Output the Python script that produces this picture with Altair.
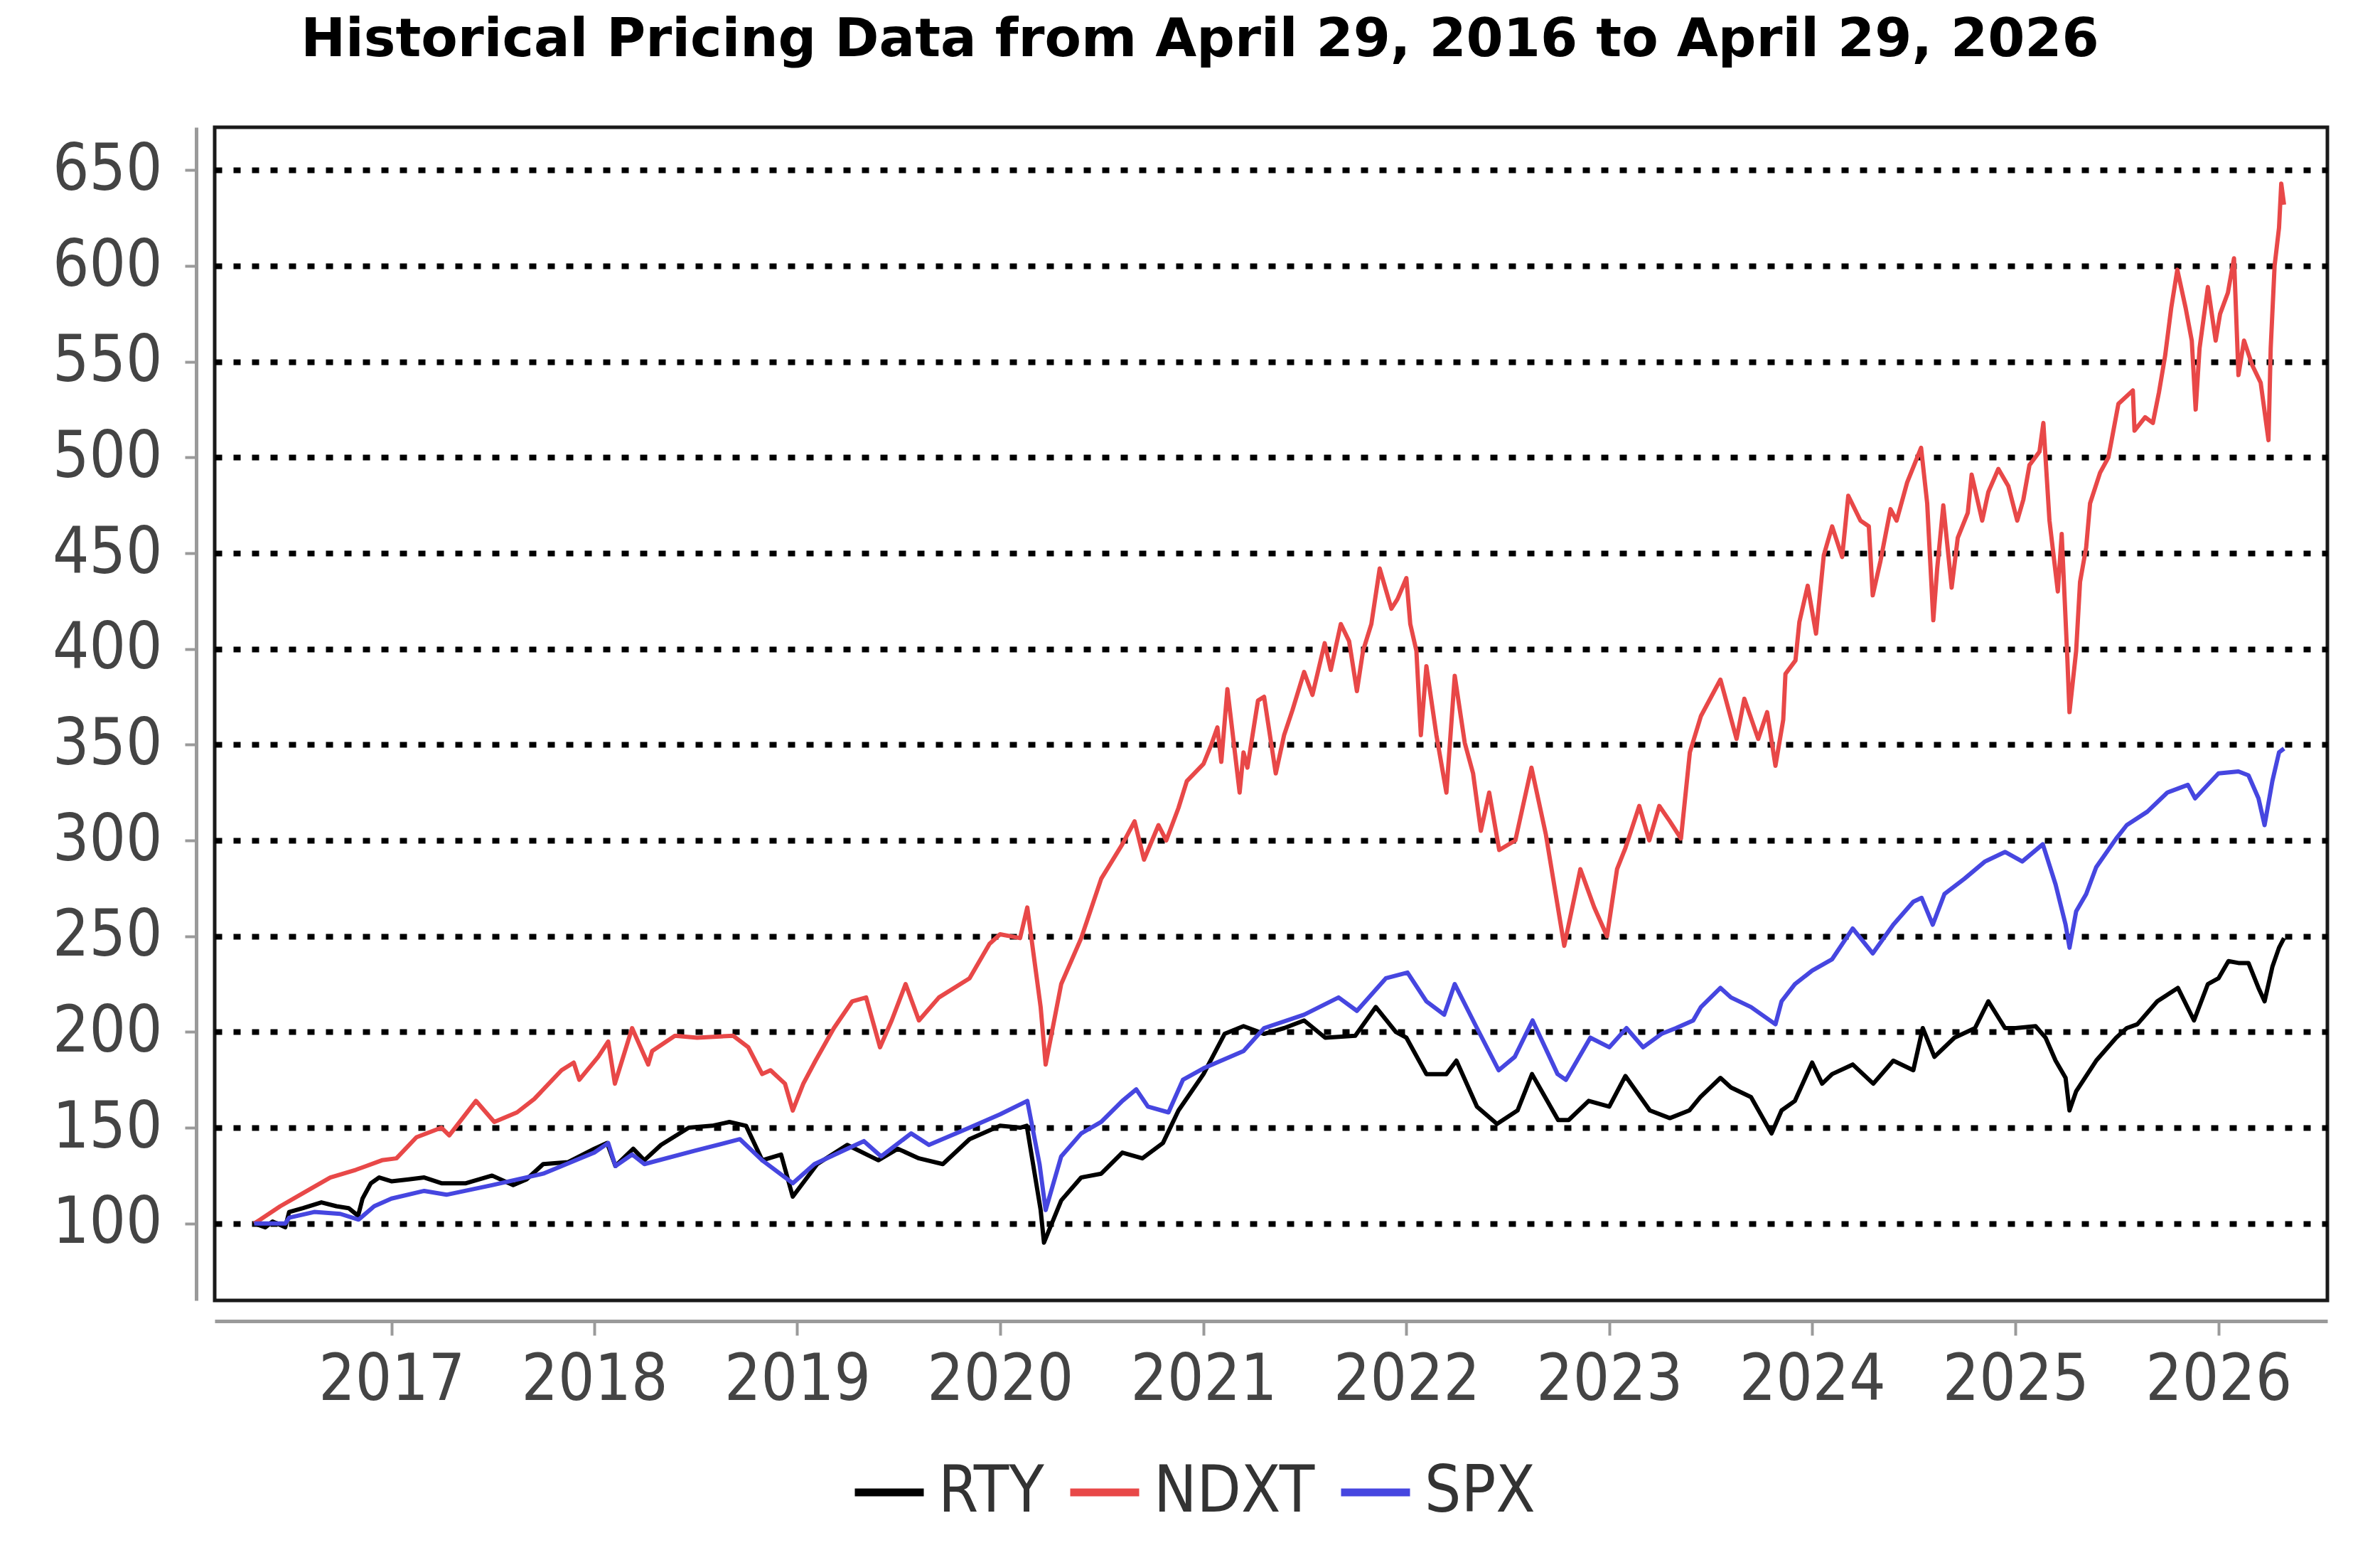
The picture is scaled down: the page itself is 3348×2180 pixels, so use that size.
import altair as alt
import pandas as pd

TITLE = "Historical Pricing Data from April 29, 2016 to April 29, 2026"
SERIES = ["RTY", "NDXT", "SPX"]
COLORS = ["#000000", "#e84848", "#4646e0"]
YEARS = list(range(2017, 2027))
Y_TICKS = list(range(100, 651, 50))

RTY_DATES = [
    "2016-04-29", "2016-05-19", "2016-06-01", "2016-06-24", "2016-07-01", "2016-07-26",
    "2016-08-28", "2016-09-24", "2016-10-16", "2016-11-02", "2016-11-10", "2016-11-25",
    "2016-12-10", "2017-01-01", "2017-02-01", "2017-03-01", "2017-04-01", "2017-05-15",
    "2017-07-01", "2017-08-08", "2017-09-01", "2017-10-01", "2017-11-15", "2018-01-01",
    "2018-01-24", "2018-02-08", "2018-03-12", "2018-04-01", "2018-05-01", "2018-06-20",
    "2018-08-01", "2018-09-01", "2018-10-01", "2018-10-30", "2018-12-03", "2018-12-24",
    "2019-02-06", "2019-04-01", "2019-05-27", "2019-07-01", "2019-08-08", "2019-09-20",
    "2019-11-07", "2020-01-01", "2020-02-06", "2020-02-18", "2020-03-14", "2020-03-20",
    "2020-04-20", "2020-05-26", "2020-07-01", "2020-08-08", "2020-09-13", "2020-10-20",
    "2020-11-17", "2021-01-01", "2021-02-08", "2021-03-14", "2021-04-20", "2021-05-26",
    "2021-07-01", "2021-08-08", "2021-10-01", "2021-11-07", "2021-12-13", "2022-01-01",
    "2022-02-06", "2022-03-14", "2022-04-01", "2022-05-08", "2022-06-13", "2022-07-20",
    "2022-08-15", "2022-10-01", "2022-10-20", "2022-11-25", "2023-01-01", "2023-01-30",
    "2023-03-15", "2023-04-20", "2023-05-25", "2023-06-14", "2023-07-20", "2023-08-08",
    "2023-09-13", "2023-10-20", "2023-11-07", "2023-12-01", "2024-01-01", "2024-01-19",
    "2024-02-06", "2024-03-14", "2024-04-20", "2024-05-26", "2024-07-01", "2024-07-18",
    "2024-08-08", "2024-09-13", "2024-10-20", "2024-11-13", "2024-12-13", "2025-01-01",
    "2025-02-06", "2025-02-24", "2025-03-14", "2025-04-01", "2025-04-08", "2025-04-20",
    "2025-05-26", "2025-07-01", "2025-07-20", "2025-08-08", "2025-09-13", "2025-10-20",
    "2025-11-18", "2025-12-13", "2026-01-01", "2026-01-19", "2026-02-06", "2026-02-24",
    "2026-03-14", "2026-03-25", "2026-04-08", "2026-04-20", "2026-04-29",
]
RTY_VALUES = [
    100, 98, 101, 98, 106, 108,
    111, 109, 108, 104, 113, 121,
    124, 122, 123, 124, 121, 121,
    125, 120, 123, 131, 132, 139,
    142, 130, 139, 133, 141, 150,
    151, 153, 151, 133, 136, 114,
    131, 141, 133, 139, 134, 131,
    144, 151, 150, 151, 107, 90,
    112, 124, 126, 137, 134, 142,
    159, 178, 199, 203, 199, 202,
    206, 197, 198, 213, 200, 197,
    178, 178, 185, 161, 152, 159,
    178, 154, 154, 164, 161, 177,
    159, 155, 159, 166, 176, 171,
    166, 147, 159, 164, 184, 173,
    178, 183, 173, 185, 180, 202,
    187, 197, 202, 216, 202, 202,
    203, 197, 185, 176, 159, 169,
    185, 197, 202, 204, 216, 223,
    206, 225, 228, 237, 236, 236,
    223, 216, 234, 244, 249,
]

NDXT_DATES = [
    "2016-04-29", "2016-05-10", "2016-06-15", "2016-07-27", "2016-09-13", "2016-10-29",
    "2016-12-15", "2017-01-10", "2017-02-15", "2017-04-01", "2017-04-15", "2017-06-02",
    "2017-07-05", "2017-08-15", "2017-09-15", "2017-11-03", "2017-11-25", "2017-12-05",
    "2018-01-08", "2018-01-26", "2018-02-07", "2018-03-10", "2018-04-08", "2018-04-15",
    "2018-05-26", "2018-07-05", "2018-09-08", "2018-10-05", "2018-10-30", "2018-11-14",
    "2018-12-10", "2018-12-24", "2019-01-12", "2019-02-03", "2019-03-08", "2019-04-10",
    "2019-05-05", "2019-05-30", "2019-06-20", "2019-07-15", "2019-08-08", "2019-09-13",
    "2019-11-07", "2019-12-13", "2020-01-01", "2020-02-06", "2020-02-19", "2020-03-14",
    "2020-03-23", "2020-04-20", "2020-05-26", "2020-07-01", "2020-08-08", "2020-08-30",
    "2020-09-16", "2020-10-12", "2020-10-26", "2020-11-17", "2020-12-02", "2021-01-01",
    "2021-01-15", "2021-01-26", "2021-02-02", "2021-02-13", "2021-03-07", "2021-03-14",
    "2021-03-21", "2021-04-09", "2021-04-20", "2021-05-11", "2021-05-26", "2021-06-10",
    "2021-07-01", "2021-07-16", "2021-08-07", "2021-08-18", "2021-09-05", "2021-09-20",
    "2021-10-04", "2021-10-15", "2021-10-30", "2021-11-14", "2021-12-05", "2021-12-16",
    "2022-01-01", "2022-01-08", "2022-01-19", "2022-01-27", "2022-02-06", "2022-02-24",
    "2022-03-14", "2022-03-29", "2022-04-16", "2022-05-01", "2022-05-15", "2022-05-30",
    "2022-06-17", "2022-07-16", "2022-08-14", "2022-09-09", "2022-10-12", "2022-11-10",
    "2022-12-05", "2022-12-28", "2023-01-15", "2023-01-30", "2023-02-24", "2023-03-14",
    "2023-04-01", "2023-04-20", "2023-05-10", "2023-05-26", "2023-06-15", "2023-07-20",
    "2023-08-18", "2023-09-01", "2023-09-26", "2023-10-12", "2023-10-27", "2023-11-10",
    "2023-11-14", "2023-12-02", "2023-12-09", "2023-12-24", "2024-01-08", "2024-01-22",
    "2024-02-06", "2024-02-24", "2024-03-06", "2024-03-28", "2024-04-12", "2024-04-19",
    "2024-05-03", "2024-05-21", "2024-06-01", "2024-06-20", "2024-07-15", "2024-07-26",
    "2024-08-06", "2024-08-13", "2024-08-24", "2024-09-08", "2024-09-19", "2024-10-07",
    "2024-10-14", "2024-11-02", "2024-11-13", "2024-12-01", "2024-12-19", "2025-01-04",
    "2025-01-15", "2025-01-26", "2025-02-13", "2025-02-20", "2025-03-03", "2025-03-18",
    "2025-03-25", "2025-04-04", "2025-04-08", "2025-04-20", "2025-04-27", "2025-05-08",
    "2025-05-15", "2025-06-02", "2025-06-17", "2025-07-05", "2025-07-31", "2025-08-03",
    "2025-08-22", "2025-09-05", "2025-09-16", "2025-09-27", "2025-10-08", "2025-10-19",
    "2025-11-03", "2025-11-14", "2025-11-21", "2025-11-28", "2025-12-13", "2025-12-27",
    "2026-01-04", "2026-01-18", "2026-01-29", "2026-02-06", "2026-02-16", "2026-03-03",
    "2026-03-18", "2026-04-01", "2026-04-05", "2026-04-12", "2026-04-20", "2026-04-24",
    "2026-04-29",
]
NDXT_VALUES = [
    100, 102, 109, 116, 124, 128,
    133, 134, 145, 150, 146, 164,
    153, 158, 165, 180, 184, 175,
    187, 195, 173, 202, 183, 190,
    198, 197, 198, 192, 178, 180,
    173, 159, 173, 185, 202, 216,
    218, 192, 206, 225, 206, 218,
    228, 246, 251, 249, 265, 213,
    183, 225, 249, 280, 298, 310,
    290, 308, 300, 317, 331, 340,
    350, 359, 341, 379, 325, 346,
    338, 373, 375, 335, 355, 368,
    388, 376, 403, 389, 413, 404,
    378, 399, 413, 442, 421, 426,
    437, 413, 399, 355, 391, 355,
    325, 386, 351, 335, 305, 325,
    295, 300, 338, 303, 245, 285,
    265, 250, 285, 296, 318, 300,
    318, 310, 301, 346, 365, 384,
    353, 374, 353, 367, 339, 363,
    387, 394, 414, 433, 408, 449,
    464, 448, 480, 467, 464, 428,
    446, 473, 467, 487, 505, 476,
    415, 442, 475, 432, 458, 471,
    491, 467, 482, 494, 485, 467,
    478, 496, 503, 518, 467, 430,
    460, 396, 367, 399, 435, 453,
    476, 492, 500, 528, 535, 514,
    521, 518, 534, 553, 578, 598,
    578, 561, 525, 557, 589, 561,
    575, 586, 604, 543, 561, 548,
    539, 509, 557, 600, 620, 643,
    632,
]

SPX_DATES = [
    "2016-04-29", "2016-06-24", "2016-07-01", "2016-08-15", "2016-10-01", "2016-11-03",
    "2016-12-01", "2017-01-01", "2017-03-01", "2017-04-10", "2017-07-01", "2017-10-01",
    "2018-01-01", "2018-01-26", "2018-02-08", "2018-03-10", "2018-04-01", "2018-07-01",
    "2018-09-20", "2018-10-30", "2018-12-24", "2019-02-01", "2019-04-01", "2019-05-01",
    "2019-06-01", "2019-07-25", "2019-08-26", "2019-11-07", "2020-01-01", "2020-02-19",
    "2020-03-12", "2020-03-23", "2020-04-20", "2020-05-26", "2020-07-01", "2020-08-08",
    "2020-09-02", "2020-09-23", "2020-10-30", "2020-11-25", "2021-01-01", "2021-03-14",
    "2021-04-20", "2021-07-01", "2021-09-01", "2021-10-04", "2021-11-25", "2022-01-03",
    "2022-02-06", "2022-03-10", "2022-03-29", "2022-05-08", "2022-06-16", "2022-07-15",
    "2022-08-16", "2022-09-30", "2022-10-15", "2022-11-28", "2023-01-01", "2023-02-01",
    "2023-03-03", "2023-04-05", "2023-05-01", "2023-06-01", "2023-06-15", "2023-07-20",
    "2023-08-08", "2023-09-13", "2023-10-27", "2023-11-07", "2023-12-01", "2024-01-01",
    "2024-02-06", "2024-03-14", "2024-04-19", "2024-05-26", "2024-07-01", "2024-07-16",
    "2024-08-05", "2024-08-26", "2024-10-01", "2024-11-07", "2024-12-13", "2025-01-13",
    "2025-02-19", "2025-03-14", "2025-04-01", "2025-04-08", "2025-04-20", "2025-05-08",
    "2025-05-26", "2025-07-01", "2025-07-20", "2025-08-26", "2025-10-01", "2025-11-07",
    "2025-11-20", "2026-01-01", "2026-02-06", "2026-02-24", "2026-03-14", "2026-03-25",
    "2026-04-08", "2026-04-20", "2026-04-29",
]
SPX_VALUES = [
    100, 100, 103, 106, 105, 102,
    109, 113, 117, 115, 120, 126,
    137, 142, 130, 136, 131, 138,
    144, 133, 121, 131, 139, 143,
    135, 147, 141, 150, 157, 164,
    131, 107, 135, 147, 153, 164,
    170, 161, 158, 175, 181, 190,
    202, 209, 218, 211, 228, 231,
    216, 209, 225, 202, 180, 187,
    206, 178, 175, 197, 192, 202,
    192, 199, 202, 206, 213, 223,
    218, 213, 204, 216, 225, 232,
    238, 254, 241, 256, 268, 270,
    256, 272, 280, 289, 294, 289,
    298, 277, 256, 244, 263, 272,
    286, 301, 308, 315, 325, 329,
    322, 335, 336, 334, 322, 308,
    331, 346, 348,
]

frames = []
for name, dates, values in [("RTY", RTY_DATES, RTY_VALUES),
                            ("NDXT", NDXT_DATES, NDXT_VALUES),
                            ("SPX", SPX_DATES, SPX_VALUES)]:
    frames.append(pd.DataFrame({"date": dates, "value": values, "series": name}))
df = pd.concat(frames, ignore_index=True)

LABEL_FONT = "DejaVu Sans Condensed, DejaVu Sans"

x_enc = alt.X(
    "date:T",
    scale=alt.Scale(
        type="utc",
        domain=[alt.DateTime(year=2016, month=2, date=18, utc=True),
                alt.DateTime(year=2026, month=7, date=16, utc=True)],
    ),
    axis=alt.Axis(
        values=[alt.DateTime(year=y, month=1, date=1, utc=True) for y in YEARS],
        format="%Y",
        title=None,
        grid=False,
        offset=29,
        domainColor="#9a9a9a",
        domainWidth=5,
        tickColor="#9a9a9a",
        tickWidth=4,
        tickSize=20,
        labelFont=LABEL_FONT,
        labelFontSize=90,
        labelColor="#444444",
        labelPadding=19,
        labelLimit=0,
        labelFlush=False,
        labelOverlap=False,
    ),
)
y_enc = alt.Y(
    "value:Q",
    scale=alt.Scale(domain=[59.8, 672.4], nice=False, zero=False),
    axis=alt.Axis(
        values=Y_TICKS,
        title=None,
        grid=True,
        gridColor="#000000",
        gridDash=[10, 16],
        gridWidth=8,
        gridOpacity=1,
        offset=26,
        domainColor="#9a9a9a",
        domainWidth=5,
        tickColor="#9a9a9a",
        tickWidth=4,
        tickSize=16,
        labelFont=LABEL_FONT,
        labelFontSize=90,
        labelColor="#444444",
        labelPadding=32,
        labelLimit=0,
        labelOverlap=False,
    ),
)
color_scale = alt.Scale(domain=SERIES, range=COLORS)

base = alt.Chart(df).encode(x=x_enc, y=y_enc)

lines = base.mark_line(strokeJoin="round", strokeWidth=6).encode(
    color=alt.Color("series:N", scale=color_scale, legend=None),
)

# empty layer that only carries the legend (thicker legend strokes)
legend_layer = base.transform_filter("datum.value < 0").mark_line(strokeWidth=11).encode(
    color=alt.Color(
        "series:N",
        scale=color_scale,
        legend=alt.Legend(
            title=None,
            orient="none",
            direction="horizontal",
            legendX=895,
            legendY=1866,
            symbolType="stroke",
            symbolSize=9409,
            symbolStrokeWidth=11,
            labelFont=LABEL_FONT,
            labelFontSize=90,
            labelColor="#333333",
            labelOffset=15,
            labelLimit=0,
            columnPadding=14,
            padding=0,
        ),
    ),
)

chart = alt.layer(lines, legend_layer).resolve_legend(
    color="independent",
).properties(
    width=2972,
    height=1650,
    title=alt.Title(
        TITLE,
        font="DejaVu Sans",
        fontSize=75,
        fontWeight="bold",
        color="#000000",
        anchor="middle",
        frame="group",
        dx=-100,
        offset=84,
    ),
    autosize=alt.AutoSizeParams(type="none"),
    padding={"left": 294, "top": 171, "right": 66, "bottom": 343},
).configure_view(
    stroke="#1a1a1a",
    strokeWidth=5,
)

chart.save("out.html", embed_options={"renderer": "svg", "actions": False})
